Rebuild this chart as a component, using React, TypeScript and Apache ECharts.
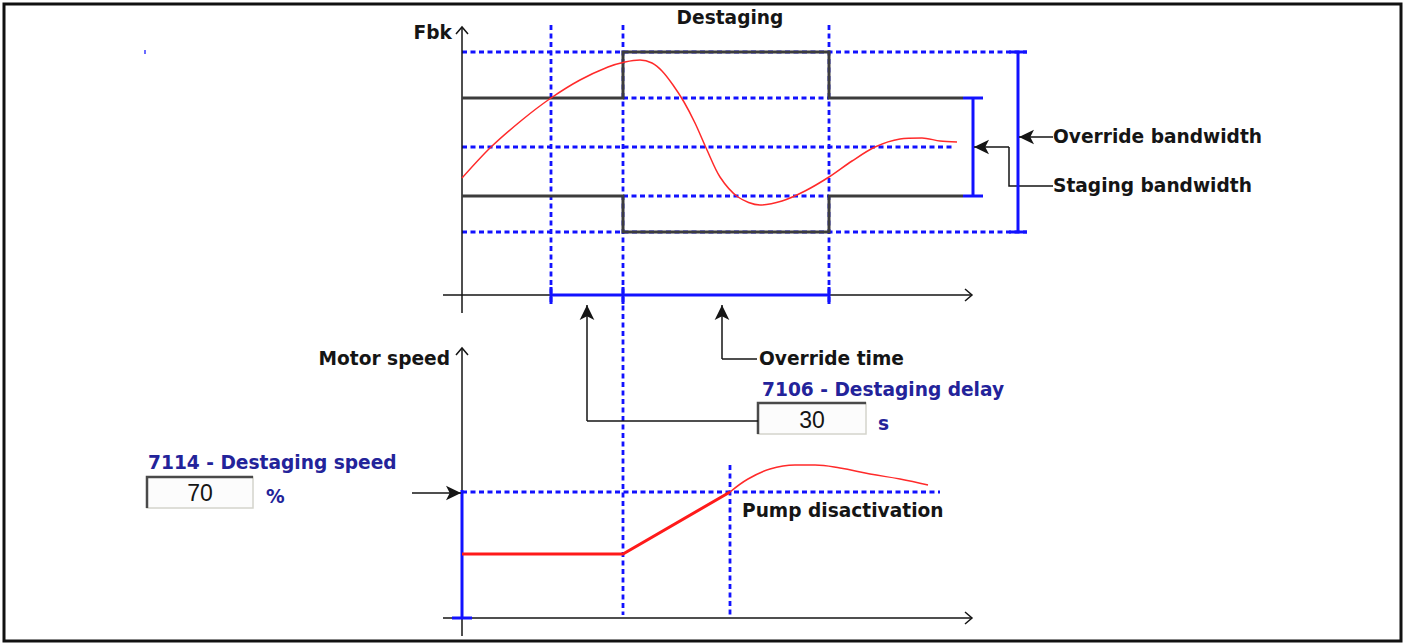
import React, { useEffect, useRef } from "react";
import * as echarts from "echarts";

// ---- Diagram geometry (diagram units = canvas pixels of the reference) ----
// Feedback (Fbk) curve
const fbkCurve: number[][] = [
  [462, 178], [490, 148], [522, 120], [551, 98], [580, 80], [608, 67], [625, 62],
  [640, 60], [652, 63], [662, 71], [673, 85], [684, 102], [695, 123], [707, 150],
  [720, 177], [738, 197], [760, 205], [782, 201], [805, 191], [829, 177], [852, 161],
  [875, 147], [900, 139], [922, 138], [940, 141], [957, 142],
];
// Motor speed: constant, ramp to destaging speed, then after pump disactivation
const motorRamp: number[][] = [[462, 554], [623, 554], [730, 492]];
const motorAfter: number[][] = [
  [730, 492], [748, 479], [770, 469], [795, 465], [815, 465], [840, 468], [870, 474],
  [900, 479], [928, 485],
];
// Staging band (black step lines)
const stagingUpper: number[][] = [[462, 98], [623, 98], [623, 52], [829, 52], [829, 98], [963, 98]];
const stagingLower: number[][] = [[462, 196], [623, 196], [623, 232], [829, 232], [829, 196], [963, 196]];
// Dashed blue references
const dashedLines: number[][][] = [
  [[462, 52], [1027, 52]],
  [[462, 232], [1027, 232]],
  [[462, 147], [955, 147]],
  [[623, 98], [829, 98]],
  [[623, 196], [829, 196]],
  [[462, 492], [940, 492]],
  [[551, 25], [551, 303]],
  [[623, 25], [623, 615]],
  [[829, 25], [829, 303]],
  [[730, 465], [730, 615]],
];
// Solid blue marks (brackets, time span, destaging speed)
const blueSolid: number[][][] = [
  [[973, 98], [973, 196]],
  [[963, 98], [983, 98]],
  [[963, 196], [983, 196]],
  [[1018, 52], [1018, 232]],
  [[1009, 52], [1027, 52]],
  [[1009, 232], [1027, 232]],
  [[551, 295], [829, 295]],
  [[551, 287], [551, 304]],
  [[623, 287], [623, 304]],
  [[829, 287], [829, 304]],
  [[462, 490], [462, 618]],
  [[452, 618], [472, 618]],
];
// Axes and open arrow heads
const axisLines: number[][][] = [
  [[462, 313], [462, 27]],
  [[456, 34], [462, 27], [468, 34]],
  [[443, 295], [972, 295]],
  [[965, 289], [972, 295], [965, 301]],
  [[462, 636], [462, 348]],
  [[456, 355], [462, 348], [468, 355]],
  [[443, 618], [972, 618]],
  [[965, 612], [972, 618], [965, 624]],
];
// Connector polylines (no arrow)
const connectors: number[][][] = [
  [[1053, 186], [1009, 186], [1009, 147]],
  [[758, 421], [587, 421]],
  [[757, 359], [722, 359]],
];
// Connector arrows [from, to]
const arrows: number[][][] = [
  [[1053, 137], [1019, 137]],
  [[1009, 147], [974, 147]],
  [[587, 421], [587, 305]],
  [[722, 359], [722, 305]],
  [[412, 493], [461, 493]],
];
// Parameter values
const destagingDelay = "30";
const destagingSpeed = "70";

const BLUE = "#1212ff";
const NAVY = "#23239a";
const INK = "#151515";
const BOLD = '"DejaVu Sans", Verdana, sans-serif';
const FS = 18.6;

function lineSeries(data: number[][], color: string, width: number, extra: any = {}) {
  return {
    type: "line",
    data,
    showSymbol: false,
    symbol: "none",
    silent: true,
    smooth: extra.smooth !== undefined ? extra.smooth : false,
    lineStyle: { color, width, cap: "butt", join: "miter", ...(extra.lineStyle || {}) },
    z: extra.z ?? 2,
  };
}

function txt(text: string, x: number, y: number, opts: any = {}) {
  return {
    type: "text",
    x,
    y,
    silent: true,
    style: {
      text,
      fill: opts.fill || INK,
      fontFamily: opts.family || BOLD,
      fontWeight: opts.weight || "bold",
      fontSize: opts.size || FS,
      textAlign: opts.align || "left",
      textVerticalAlign: "middle",
    },
  };
}

function box(x: number, y: number, w: number, h: number) {
  return [
    { type: "rect", shape: { x, y, width: w, height: h }, style: { fill: "#fcfcfc", stroke: "#d4d4cc", lineWidth: 1.5 } },
    { type: "polyline", shape: { points: [[x, y + h], [x, y], [x + w, y]] }, style: { stroke: "#4a4a4a", lineWidth: 2.5, fill: null } },
  ];
}

export default function App() {
  const ref = useRef<HTMLDivElement>(null);
  useEffect(() => {
    if (!ref.current) return;
    document.body.style.margin = "0";
    document.body.style.overflow = "hidden";
    const chart = echarts.init(ref.current, null, { renderer: "svg" });
    const series: any[] = [];
    dashedLines.forEach((d) => series.push(lineSeries(d, BLUE, 2.8, { lineStyle: { type: [5, 3.5] }, z: 1 })));
    axisLines.forEach((d) => series.push(lineSeries(d, INK, 1.5)));
    series.push(lineSeries(stagingUpper, "#3c3c3c", 3));
    series.push(lineSeries(stagingLower, "#3c3c3c", 3));
    blueSolid.forEach((d) => series.push(lineSeries(d, BLUE, 3, { z: 3 })));
    connectors.forEach((d) => series.push(lineSeries(d, INK, 1.5)));
    series.push(lineSeries(fbkCurve, "#ff2a2a", 1.5, { smooth: 0.3, z: 4 }));
    series.push(lineSeries(motorRamp, "#ff1a1a", 3, { z: 4 }));
    series.push(lineSeries(motorAfter, "#ff2a2a", 1.5, { smooth: 0.4, z: 4 }));
    series.push({
      type: "line",
      data: [],
      silent: true,
      markLine: {
        silent: true,
        symbol: ["none", "arrow"],
        symbolSize: [11, 15],
        label: { show: false },
        emphasis: { disabled: true },
        lineStyle: { color: INK, width: 1.5, type: "solid" },
        data: arrows.map(([a, b]) => [{ coord: a }, { coord: b }]),
      },
    });

    const graphic: any[] = [
      { type: "rect", shape: { x: 4, y: 4, width: 1397, height: 637 }, style: { fill: null, stroke: "#111", lineWidth: 3 } },
      { type: "rect", shape: { x: 144, y: 50, width: 2, height: 4 }, style: { fill: "#6a6aff" } },
      txt("Fbk", 452, 32, { align: "right" }),
      txt("Destaging", 730, 17, { align: "center" }),
      txt("Override bandwidth", 1053, 136),
      txt("Staging bandwidth", 1053, 185),
      txt("Motor speed", 450, 358, { align: "right" }),
      txt("Override time", 759, 358),
      txt("7106 - Destaging delay", 762, 389, { fill: NAVY }),
      ...box(758, 403, 108, 31),
      txt(destagingDelay, 812, 420, { family: '"Liberation Sans", Arial, sans-serif', weight: 500, size: 23, align: "center" }),
      txt("s", 878, 423, { fill: NAVY }),
      txt("7114 - Destaging speed", 148, 462, { fill: NAVY }),
      ...box(147, 477, 106, 31),
      txt(destagingSpeed, 200, 493, { family: '"Liberation Sans", Arial, sans-serif', weight: 500, size: 23, align: "center" }),
      txt("%", 266, 496, { fill: NAVY }),
      txt("Pump disactivation", 742, 510),
    ];

    chart.setOption({
      animation: false,
      backgroundColor: "#ffffff",
      grid: { left: 0, right: 0, top: 0, bottom: 0 },
      xAxis: { type: "value", min: 0, max: 1410, show: false },
      yAxis: { type: "value", min: 0, max: 644, inverse: true, show: false },
      tooltip: { show: false },
      series,
      graphic,
    });
    return () => chart.dispose();
  }, []);
  return <div ref={ref} style={{ width: 1410, height: 644, background: "#fff" }} />;
}
